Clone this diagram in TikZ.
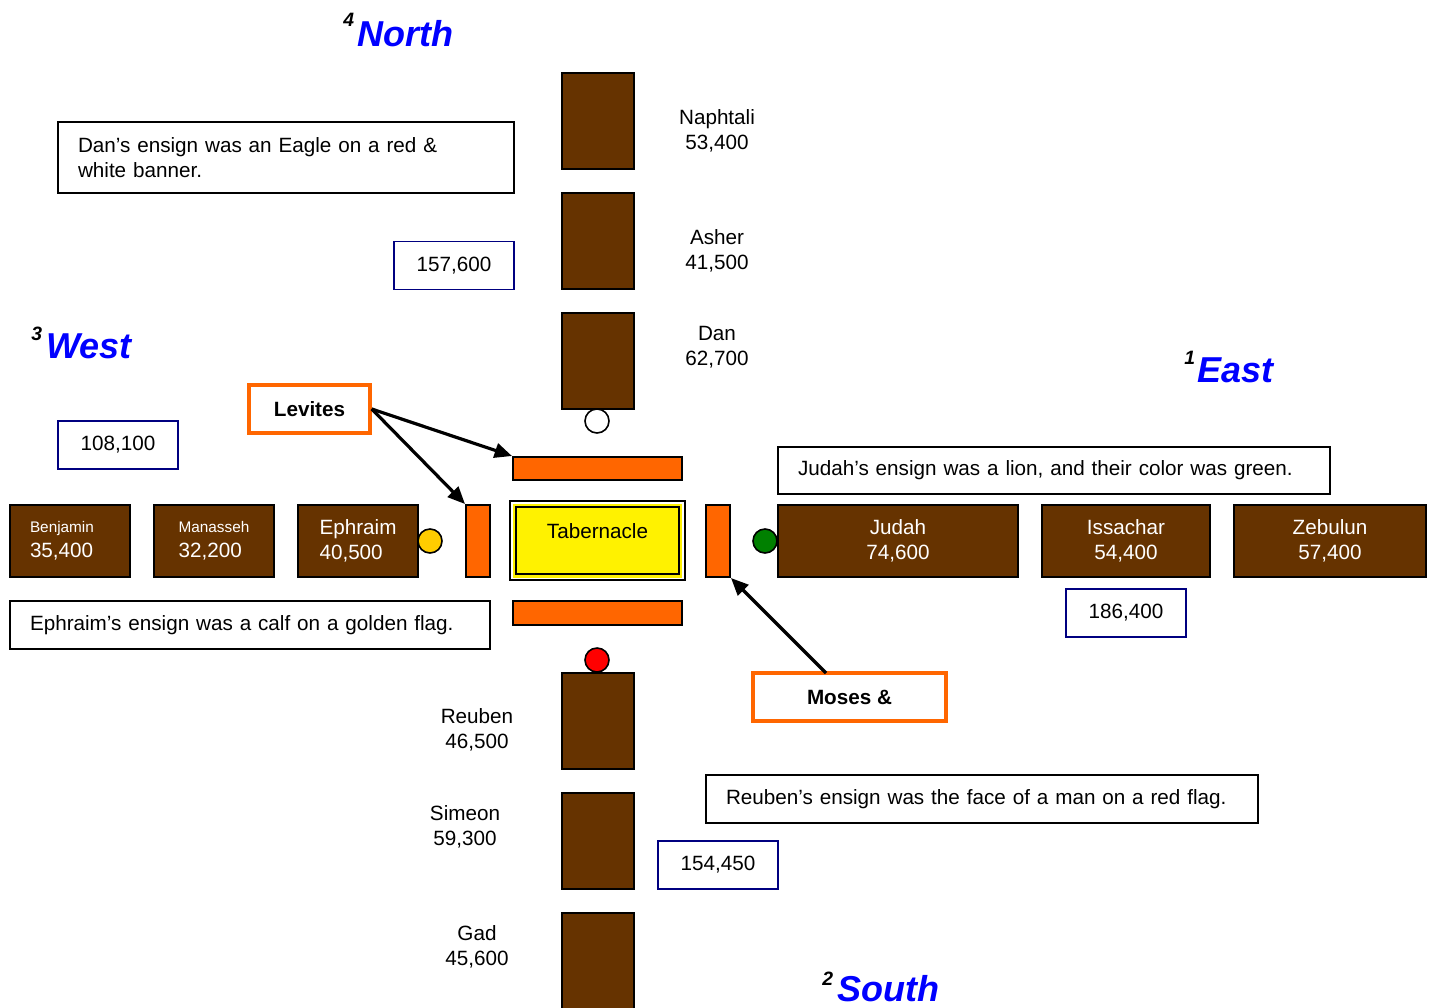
\documentclass[tikz,border=0pt]{standalone}
\usepackage{fontspec}
\setmainfont{Liberation Sans}
\usetikzlibrary{arrows.meta}
\definecolor{tribebrown}{HTML}{663300}
\definecolor{orng}{HTML}{FF6600}
\definecolor{navyblue}{HTML}{000080}
\definecolor{goldc}{HTML}{FFCC00}
\definecolor{grn}{HTML}{008000}
\newcommand\tribesmall{\fontsize{11.5}{14}\selectfont}
\begin{document}
\begin{tikzpicture}[x=0.75pt,y=-0.75pt,
  txt/.style={font=\fontsize{15.5}{18.5}\selectfont},
  tribe/.style={txt, draw=black, line width=1.5pt, fill=tribebrown, text=white, inner sep=0pt},
  vtribe/.style={tribe, minimum width=54pt, minimum height=72pt},
  htribe/.style={tribe, minimum height=54pt},
  curtain/.style={draw=black, line width=1.5pt, fill=orng, inner sep=0pt},
  ensign/.style={txt, draw=black, line width=1.2pt, fill=white, align=left, inner xsep=15pt, inner ysep=0pt},
  tally/.style={txt, draw=navyblue, line width=1.2pt, fill=white, minimum width=90pt, minimum height=36pt, inner sep=0pt},
  leader/.style={font=\fontsize{15.5}{18.5}\selectfont\bfseries, draw=orng, line width=2.6pt, fill=white, minimum height=36pt, inner sep=0pt},
  gate/.style={circle, draw=black, line width=1.2pt, minimum size=18pt, inner sep=0pt},
  sidelabel/.style={txt, align=center, inner sep=0pt},
  dir/.style={text=blue, font=\fontsize{27}{30}\selectfont\bfseries\itshape, anchor=base west, inner sep=0pt},
  dirnum/.style={font=\fontsize{14.5}{17}\selectfont\bfseries\itshape, anchor=base west, inner sep=0pt},
  point/.style={-{Triangle[length=13pt,width=11pt]}, line width=2.4pt}
]
\useasboundingbox (0,0) rectangle (1433,1007);
\clip (0,0) rectangle (1433,1007);

% direction labels
\node[dirnum] (n4) at (343,26) {4};
\node[dir] (north) at (357,46) {North};
\node[dirnum] (n3) at (31,340) {3};
\node[dir] (west) at (46,358) {West};
\node[dirnum] (n1) at (1184,364) {1};
\node[dir] (east) at (1197,382) {East};
\node[dirnum] (n2) at (822,985) {2};
\node[dir] (south) at (837,1001) {South};

% north tribes
\node[vtribe] (naphtali) at (598,121) {};
\node[vtribe] (asher) at (598,241) {};
\node[vtribe] (dan) at (598,361) {};
\node[sidelabel] (naphtalil) at (717,131) {Naphtali\\53,400};
\node[sidelabel] (asherl) at (717,251) {Asher\\41,500};
\node[sidelabel] (danl) at (717,347) {Dan\\62,700};

% south tribes
\node[vtribe] (reuben) at (598,721) {};
\node[vtribe] (simeon) at (598,841) {};
\node[vtribe] (gad) at (598,961) {};
\node[sidelabel] (reubenl) at (477,730) {Reuben\\46,500};
\node[sidelabel] (simeonl) at (465,827) {Simeon\\59,300};
\node[sidelabel] (gadl) at (477,947) {Gad\\45,600};

% west tribes
\node[htribe, minimum width=90pt, align=left, text width=60pt] (benjamin) at (70,541) {{\tribesmall Benjamin}\\35,400};
\node[htribe, minimum width=90pt, align=left] (manasseh) at (214,541) {{\tribesmall Manasseh}\\32,200};
\node[htribe, minimum width=90pt, align=left] (ephraim) at (358,541) {Ephraim\\40,500};

% east tribes
\node[htribe, minimum width=180pt, align=center] (judah) at (898,541) {Judah\\74,600};
\node[htribe, minimum width=126pt, align=center] (issachar) at (1126,541) {Issachar\\54,400};
\node[htribe, minimum width=144pt, align=center] (zebulun) at (1330,541) {Zebulun\\57,400};

% levite curtains
\node[curtain, minimum width=126.75pt, minimum height=17.25pt] (topbar) at (597.5,468.5) {};
\node[curtain, minimum width=126.75pt, minimum height=18pt] (botbar) at (597.5,613) {};
\node[curtain, minimum width=18pt, minimum height=54pt] (leftbar) at (478,541) {};
\node[curtain, minimum width=18pt, minimum height=54pt] (rightbar) at (718,541) {};

% tabernacle
\node[draw=black, line width=1.2pt, fill=white, minimum width=131.25pt, minimum height=59.25pt, inner sep=0pt] (tabout) at (597.5,540.5) {};
\node[fill=yellow, minimum width=126.75pt, minimum height=55.5pt, inner sep=0pt] (tabfill) at (597.5,540.5) {};
\node[draw=black, line width=2pt, fill=yellow, minimum width=122.25pt, minimum height=50.25pt, inner sep=0pt] (tab) at (597.5,540.5) {};
\node[txt, inner sep=0pt] (tabtext) at (597.5,531) {Tabernacle};

% gates / ensigns
\node[gate, fill=white] (gn) at (597,421) {};
\node[gate, fill=goldc] (gw) at (430,541) {};
\node[gate, fill=grn] (ge) at (765,541) {};
\node[gate, fill=red] (gs) at (597,660) {};

% ensign descriptions
\node[ensign, text width=312pt, minimum height=53.25pt] (danens) at (286,157.5) {Dan’s ensign was an Eagle on a red \&\\white banner.};
\node[ensign, text width=384pt, minimum height=35.25pt] (judahens) at (1054,470.5) {Judah’s ensign was a lion, and their color was green.};
\node[ensign, text width=330pt, minimum height=36pt] (ephens) at (250,625) {Ephraim’s ensign was a calf on a golden flag.};
\node[ensign, text width=384pt, minimum height=36pt] (reubens) at (982,799) {Reuben’s ensign was the face of a man on a red flag.};

% totals
\node[tally] (tnorth) at (454,265.5) {157,600};
\node[tally] (twest) at (118,445) {108,100};
\node[tally] (teast) at (1126,613) {186,400};
\node[tally] (tsouth) at (718,865) {154,450};

% leaders
\node[leader, minimum width=90.75pt] (levites) at (309.5,409) {Levites};
\node[leader, minimum width=144.75pt] (moses) at (849.5,697) {Moses \&};

% arrows
\draw[point] (levites.east) -- (topbar.north west);
\draw[point] (levites.east) -- (leftbar.north west);
\coordinate (mosesfoot) at (826,673);
\draw[point] (mosesfoot) -- (rightbar.south east);
\end{tikzpicture}
\end{document}
